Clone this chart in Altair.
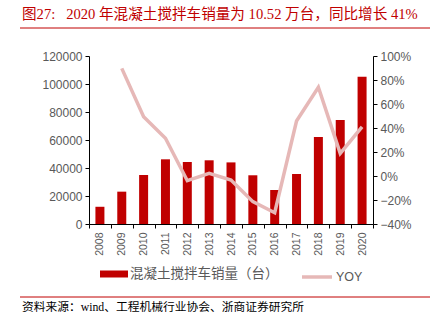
import altair as alt
import pandas as pd

years = [str(y) for y in range(2008, 2021)]
sales = [12300, 23100, 35000, 46200, 44300, 45500, 44000, 34800, 24300, 35700, 62100, 74300, 105200]
yoy = [None, 0.897, 0.494, 0.314, -0.039, 0.022, -0.033, -0.214, -0.306, 0.458, 0.739, 0.189, 0.41]

left_ticks = [0, 20000, 40000, 60000, 80000, 100000, 120000]
right_ticks = [-0.4, -0.2, 0.0, 0.2, 0.4, 0.6, 0.8, 1.0]

bar_name = "混凝土搅拌车销量（台）"
line_name = "YOY"
title_text = "图27:\u00a0\u00a0 2020 年混凝土搅拌车销量为 10.52 万台，同比增长 41%"
source_text = "资料来源：wind、工程机械行业协会、浙商证券研究所"

RED = "#C00000"
PINK = "#E6B8B7"
GRAY = "#595959"
SANS = "Liberation Sans, Noto Sans CJK SC"
SERIF = "Liberation Serif, Noto Sans CJK SC"

df = pd.DataFrame({
    "year": years,
    "sales": sales,
    "yoy": yoy,
    "bar_series": [bar_name] * len(years),
    "line_series": [line_name] * len(years),
})

base = alt.Chart(df).encode(
    x=alt.X(
        "year:N",
        scale=alt.Scale(paddingInner=0, paddingOuter=0),
        axis=alt.Axis(
            title=None, labelAngle=-90, tickBand="extent", labelFontSize=10.5,
            labelColor=GRAY, labelFont=SANS, domainColor="black", tickColor="black",
            tickSize=4, labelPadding=4,
        ),
    )
)

bars = base.mark_bar(size=9).encode(
    y=alt.Y(
        "sales:Q",
        scale=alt.Scale(domain=[0, 120000], nice=False),
        axis=alt.Axis(
            title=None, orient="left", values=left_ticks, format="d", grid=False,
            labelFontSize=12, labelColor=GRAY, labelFont=SANS,
            domainColor="black", tickColor="black", tickSize=4, labelPadding=3,
        ),
    ),
    color=alt.Color(
        "bar_series:N",
        scale=alt.Scale(domain=[bar_name], range=[RED]),
        legend=alt.Legend(
            orient="none", legendX=11, legendY=204, title=None,
            symbolType="M-1,-0.25H1V0.25H-1Z", symbolSize=784, symbolStrokeWidth=0,
            labelFontSize=13.5, labelColor=GRAY, labelFont=SANS, labelOffset=2,
        ),
    ),
)

line = base.mark_line(strokeWidth=3.5).encode(
    y=alt.Y(
        "yoy:Q",
        scale=alt.Scale(domain=[-0.4, 1.0], nice=False),
        axis=alt.Axis(
            title=None, orient="right", values=right_ticks, format=".0%", grid=False,
            labelFontSize=12, labelColor=GRAY, labelFont=SANS,
            domainColor="black", tickColor="black", tickSize=4, labelPadding=3,
        ),
    ),
    stroke=alt.Stroke(
        "line_series:N",
        scale=alt.Scale(domain=[line_name], range=[PINK]),
        legend=alt.Legend(
            orient="none", legendX=211, legendY=204, title=None,
            symbolType="stroke", symbolSize=900, symbolStrokeWidth=3.5,
            labelFontSize=12.5, labelColor=GRAY, labelFont=SANS, labelOffset=2,
        ),
    ),
)

title_mark = alt.Chart(pd.DataFrame({"t": [title_text]})).mark_text(
    align="left", baseline="middle", font=SERIF, fontSize=14.6, color=RED
).encode(text="t:N", x=alt.value(-67), y=alt.value(-41))

top_rule = alt.Chart(pd.DataFrame({"a": [0]})).mark_rule(color=RED, strokeWidth=1).encode(
    x=alt.value(-69), x2=alt.value(341), y=alt.value(-28)
)
bottom_rule = alt.Chart(pd.DataFrame({"a": [0]})).mark_rule(color=RED, strokeWidth=1).encode(
    x=alt.value(-69), x2=alt.value(341), y=alt.value(241)
)
source_mark = alt.Chart(pd.DataFrame({"t": [source_text]})).mark_text(
    align="left", baseline="middle", font=SERIF, fontSize=11.75, color="black"
).encode(text="t:N", x=alt.value(-67), y=alt.value(251))

chart = (
    alt.layer(bars, line, title_mark, top_rule, bottom_rule, source_mark)
    .resolve_scale(y="independent", color="independent", stroke="independent")
    .properties(
        width=284, height=168, autosize="none",
        padding={"left": 89, "top": 56, "right": 66, "bottom": 108},
        background="white",
    )
    .configure_view(stroke=None)
)

chart.save("out.html", embed_options={"renderer": "svg", "actions": False})
